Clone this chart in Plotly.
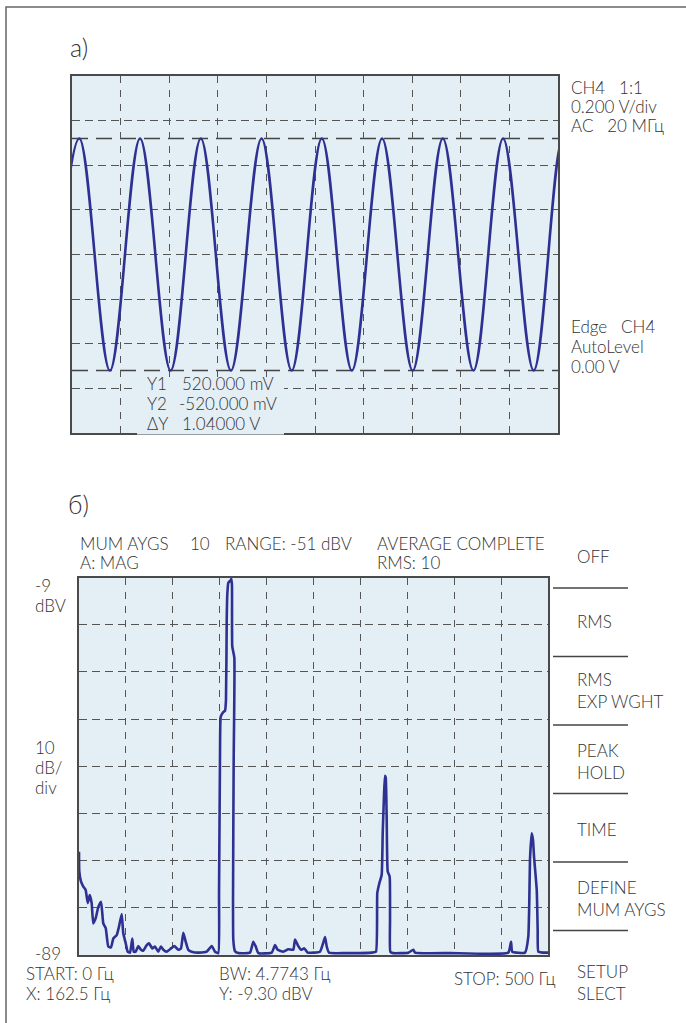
import plotly.graph_objects as go

# ---------------- data ----------------
# (a) oscilloscope: extrema of the waveform (time in divisions, volts)
osc_time_div = [-0.47, 0.15, 0.78, 1.40, 2.03, 2.65, 3.27, 3.90, 4.52, 5.14,
                5.76, 6.38, 7.01, 7.63, 8.26, 8.87, 9.50, 10.10, 10.72]
osc_volts = [-0.52, 0.52, -0.52, 0.52, -0.52, 0.52, -0.52, 0.52, -0.52, 0.52,
             -0.52, 0.52, -0.52, 0.52, -0.52, 0.52, -0.52, 0.52, -0.52]
cursor_volts = [0.52, -0.52]

# (b) spectrum analyser trace (Hz, dBV)
spec_freq = [0, 0.3, 2.1, 4.6, 7.1, 9.3, 11.4, 13.5, 15.2, 17.8,
             20.6, 23.5, 25.9, 28.5, 31.2, 34.1, 36.6, 40.2, 42.6, 45.5,
             47.2, 49.8, 51.9, 54.4, 56.8, 58.3, 60.4, 63.2, 66.1, 68.5,
             72.2, 74.6, 78.1, 81.0, 84.5, 87.4, 89.9, 93.5, 98.1, 101.6,
             105.9, 108.7, 111.2, 113.8, 116.5, 120.1, 127.2, 136.1, 141.5, 145.0,
             148.5,
             149.3, 150.3, 151.1, 153.5, 155.7, 156.7, 157.5, 158.1, 159.2, 161.7,
             162.5, 163.1, 163.4, 165.6, 164.9, 164.2, 164.5, 166.3, 169.8,
             182.3, 185.8, 188.4, 191.2, 205.4, 209.0, 211.8, 217.8, 223.1, 228.5,
             230.3, 233.2, 236.7, 240.2, 243.8, 256.9, 260.4, 262.3, 264.1, 266.5,
             283.6, 312.0, 316.6,
             318.0, 320.2, 322.7, 323.8, 325.2, 326.2, 327.0, 328.0, 329.1, 331.2,
             331.6, 331.9, 335.1,
             351.1, 356.4, 358.2, 395.5, 457.7, 460.6, 461.9, 475.5, 479.0, 480.1,
             480.8, 482.6, 484.0, 485.1, 488.0, 489.0, 489.7, 495.0, 500.0]
spec_dbv = [-67.1, -71.3, -73.4, -74.5, -75.2, -78.0, -76.3, -78.0, -82.3, -81.2,
            -78.8, -77.7, -82.3, -83.3, -87.2, -87.4, -85.5, -84.8, -83.0, -80.3,
            -84.4, -86.5, -88.3, -88.5, -85.5, -88.3, -88.3, -87.1, -87.9, -88.1,
            -86.9, -86.5, -87.6, -87.2, -88.3, -87.2, -87.9, -88.3, -87.6, -87.1,
            -87.9, -87.6, -84.3, -86.2, -87.9, -88.3, -88.5, -88.3, -87.1, -88.3,
            -88.6,
            -75.8, -47.6, -38.5, -37.6, -37.2, -34.9, -17.9, -12.6, -10.1, -9.6,
            -9.3, -10.8, -23.6, -26.0, -47.6, -77.3, -85.8, -88.2, -88.6,
            -88.5, -86.2, -87.2, -88.6, -88.5, -86.9, -87.9, -88.3, -87.8, -87.9,
            -85.7, -86.9, -87.9, -87.6, -88.5, -88.3, -86.4, -85.2, -87.2, -88.5,
            -88.6, -88.5, -88.3,
            -75.9, -73.8, -72.0, -63.1, -55.0, -51.0, -51.4, -59.7, -71.3, -72.4,
            -81.6, -88.3, -88.6,
            -88.5, -87.9, -88.5, -88.6, -88.5, -86.2, -88.3, -88.5, -85.1, -77.3,
            -68.8, -63.2, -64.6, -68.1, -75.2, -83.7, -88.3, -88.5, -88.5]

softkeys = ["OFF", "RMS", "RMS<br>EXP WGHT", "PEAK<br>HOLD", "TIME",
            "DEFINE<br>MUM AYGS", "SETUP<br>SLECT"]

# ---------------- layout helpers ----------------
W, H = 686, 1023
def px(x):
    return x / W
def py(y):
    return 1 - y / H

NB = "\u00a0"
FONT = "Lato, 'Open Sans', sans-serif"
TXT = "#333333"
BG = "#e3eef5"
LINE = "#2e3192"
GRID = "#555555"
FS = 17

fig = go.Figure()
fig.add_trace(go.Scatter(x=osc_time_div, y=osc_volts, mode="lines",
                         line=dict(color=LINE, width=2.6, shape="spline", smoothing=1.0),
                         xaxis="x", yaxis="y", hoverinfo="skip", showlegend=False))
fig.add_trace(go.Scatter(x=spec_freq, y=spec_dbv, mode="lines",
                         line=dict(color=LINE, width=2.6, shape="spline", smoothing=0.4),
                         xaxis="x2", yaxis="y2", hoverinfo="skip", showlegend=False))

ax_common = dict(showticklabels=False, ticks="", showgrid=True, gridcolor=GRID,
                 gridwidth=1, zeroline=False, showline=True, mirror=True,
                 linecolor="#4a4a4a", linewidth=1.6, fixedrange=True)

fig.update_layout(
    width=W, height=H, margin=dict(l=0, r=0, t=0, b=0),
    paper_bgcolor="white", plot_bgcolor=BG, showlegend=False,
    font=dict(family=FONT, color=TXT, size=FS),
    xaxis=dict(domain=[px(72), px(558)], range=[0, 10], tick0=0, dtick=1,
               griddash="7px,7px", anchor="y", **ax_common),
    yaxis=dict(domain=[py(433), py(76)], range=[-0.8, 0.8], tick0=0, dtick=0.2,
               griddash="8px,5px", anchor="x", **ax_common),
    xaxis2=dict(domain=[px(79), px(548)], range=[0, 500], tick0=0, dtick=50,
                griddash="7px,7px", anchor="y2", **ax_common),
    yaxis2=dict(domain=[py(955), py(577.5)], range=[-89, -9], tick0=-89, dtick=10,
                griddash="8px,5px", anchor="x2", **ax_common),
)

shapes = []
# outer frame
shapes.append(dict(type="rect", xref="paper", yref="paper", x0=px(6), x1=px(720),
                   y0=py(1060), y1=py(7), line=dict(color="#666666", width=1.5),
                   fillcolor="rgba(0,0,0,0)", layer="below"))
# cursor lines (a)
for v in cursor_volts:
    shapes.append(dict(type="line", xref="x", yref="y", x0=0, x1=10, y0=v, y1=v,
                       line=dict(color="#444444", width=1.6, dash="16px,8px"),
                       layer="below"))
# readout box (a)
shapes.append(dict(type="rect", xref="paper", yref="paper", x0=px(137), x1=px(284),
                   y0=py(434.5), y1=py(377), fillcolor=BG, line=dict(width=0),
                   layer="above"))
# softkey separators (b)
for yy in [588, 656.5, 725, 793.5, 862, 930.5]:
    shapes.append(dict(type="line", xref="paper", yref="paper", x0=px(553), x1=px(628),
                       y0=py(yy), y1=py(yy), line=dict(color="#444444", width=1.3)))
fig.update_layout(shapes=shapes)

ann = []
def label(text, x, y, size=FS, xanchor="left", align="left"):
    ann.append(dict(text=text, x=px(x), y=py(y), xref="paper", yref="paper",
                    xanchor=xanchor, yanchor="middle", showarrow=False, align=align,
                    font=dict(size=size, color=TXT, family=FONT, weight=300)))

label("а)", 68, 47, size=25)
label("б)", 66, 504, size=25)

# (a) right side
label(f"CH4{NB*3}1:1", 569, 87)
label("0.200 V/div", 569, 106)
label(f"AC{NB*3}20 МГц", 569, 125)
label(f"Edge{NB*3}CH4", 569, 327)
label("AutoLevel", 569, 347)
label("0.00 V", 569, 366)
# (a) readout
label("Y1", 145, 383)
label("520.000 mV", 180, 383)
label("Y2", 145, 403)
label("-520.000 mV", 177, 403)
label("ΔY", 145, 423)
label("1.04000 V", 180, 423)

# (b) header
label("MUM AYGS", 78, 543)
label("10", 188, 543)
label("RANGE: -51 dBV", 223, 543)
label("AVERAGE COMPLETE", 375, 543)
label("A: MAG", 78, 562)
label("RMS: 10", 375, 562)
# (b) left scale
label("-9", 33, 585)
label("dBV", 33, 605)
label("10", 33, 747)
label("dB/", 33, 767)
label("div", 33, 787)
label("-89", 33, 953)
# (b) footer
label("START: 0 Гц", 24, 973)
label("X: 162.5 Гц", 24, 993)
label("BW: 4.7743 Гц", 217, 973)
label("Y: -9.30 dBV", 217, 993)
label("STOP: 500 Гц", 557, 978, xanchor="right", align="right")
# softkeys
sk_y = [556, 621, 690, 761, 829, 898, 982]
for t, yy in zip(softkeys, sk_y):
    label(t, 575, yy)

fig.update_layout(annotations=ann)
fig.write_html("out.html", config={"displayModeBar": False, "staticPlot": True},
               post_script="document.body.style.margin='0px';document.body.style.overflow='hidden';")
